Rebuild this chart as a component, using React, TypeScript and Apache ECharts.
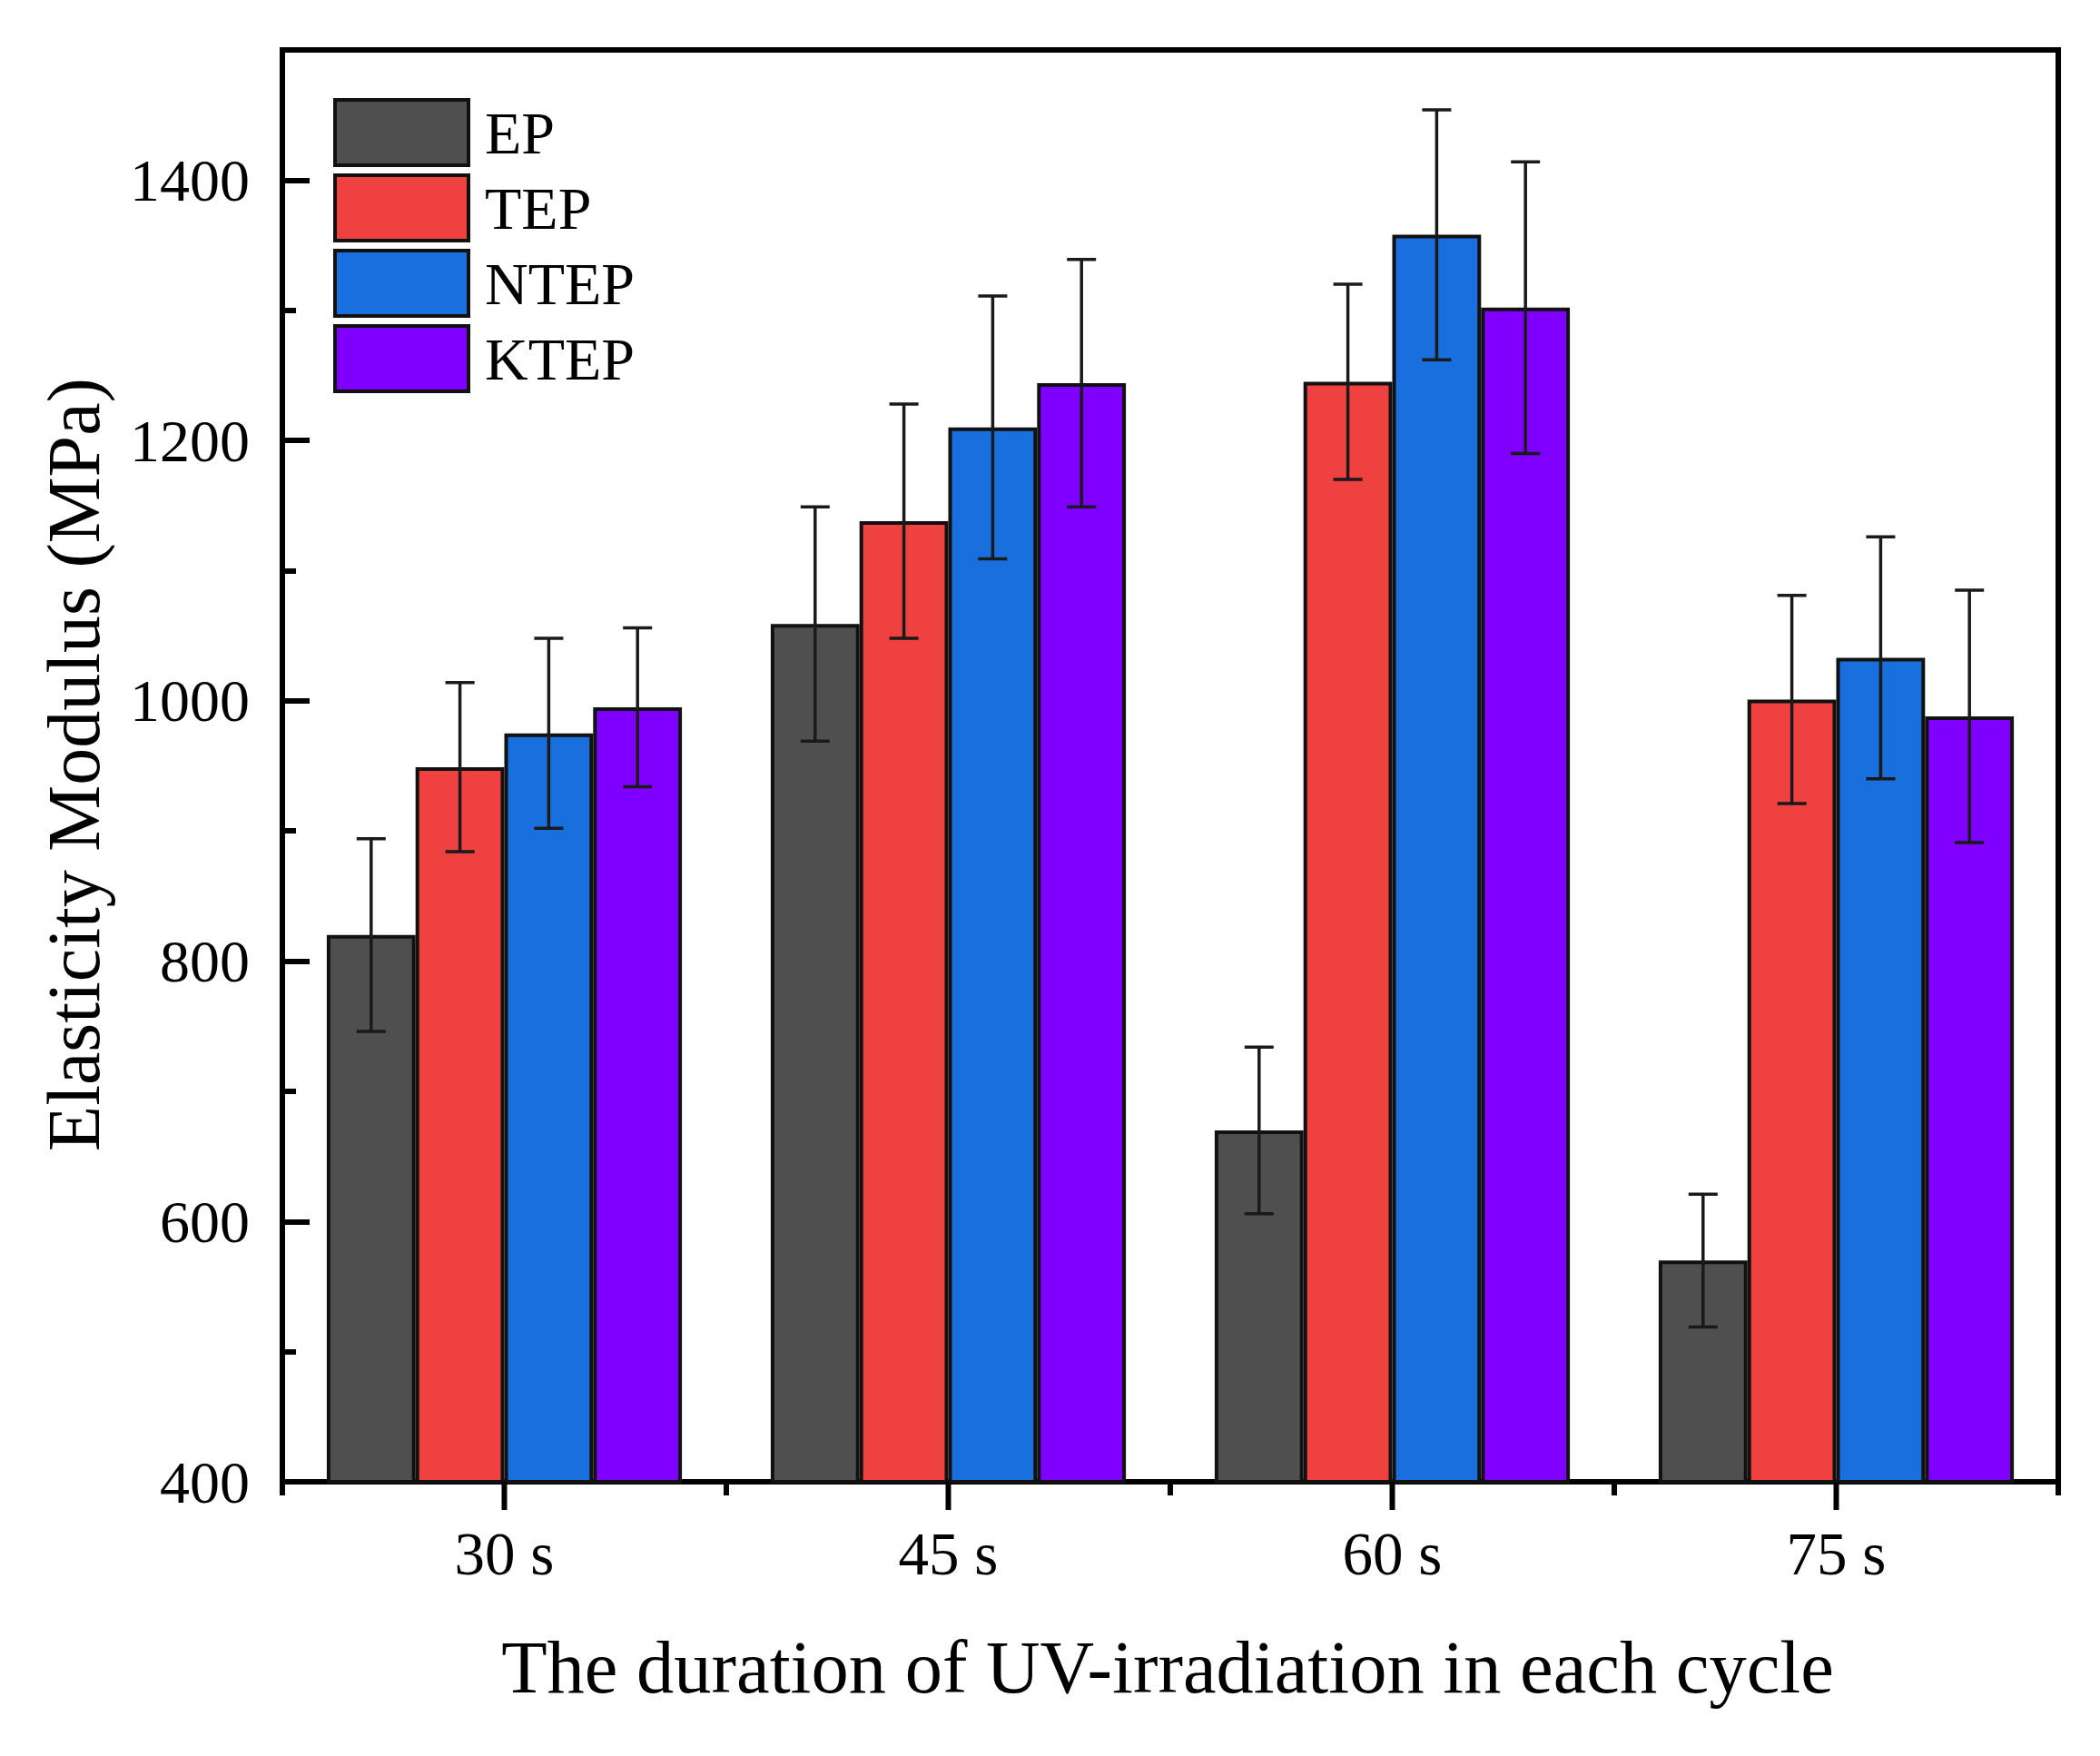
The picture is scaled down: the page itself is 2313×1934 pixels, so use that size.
import React, { useEffect, useRef } from "react";
import * as echarts from "echarts";

const categories = ["30 s", "45 s", "60 s", "75 s"];
const seriesNames = ["EP", "TEP", "NTEP", "KTEP"];
const seriesColors = ["#4f4f4f", "#f04141", "#1a6fdf", "#8000ff"];

const epValues = [820, 1059, 670, 570];
const epErrors = [74, 90, 64, 51];
const tepValues = [949, 1138, 1245, 1001];
const tepErrors = [65, 90, 75, 80];
const ntepValues = [975, 1210, 1358, 1033];
const ntepErrors = [73, 101, 96, 93];
const ktepValues = [995, 1244, 1302, 988];
const ktepErrors = [61, 95, 112, 97];

const yMin = 400;
const yMax = 1500;
const yMajor = 200;
const yMinor = 100;

const xTitle = "The duration of UV-irradiation in each cycle";
const yTitle = "Elasticity Modulus (MPa)";

const FONT = "'Liberation Serif', 'Times New Roman', serif";

export default function App() {
  const ref = useRef<HTMLDivElement>(null);

  useEffect(() => {
    if (!ref.current) return;
    const chart = echarts.init(ref.current, undefined, { renderer: "svg" });
    const allValues = [epValues, tepValues, ntepValues, ktepValues];
    const allErrors = [epErrors, tepErrors, ntepErrors, ktepErrors];
    const nSeries = seriesNames.length;
    const catGap = 0.2;

    const barSeries = seriesNames.map((name, k) => ({
      name,
      type: "bar",
      xAxisIndex: 0,
      yAxisIndex: 0,
      data: allValues[k],
      barGap: "0%",
      barCategoryGap: "20%",
      itemStyle: { color: seriesColors[k], borderColor: "#111", borderWidth: 4 },
      z: 2,
    }));

    const errSeries = seriesNames.map((name, k) => ({
      name: name + "-err",
      type: "custom",
      xAxisIndex: 0,
      yAxisIndex: 0,
      z: 10,
      encode: { x: 0, y: [1, 2] },
      data: allValues[k].map((v, i) => [i, v - allErrors[k][i], v + allErrors[k][i]]),
      renderItem: (params: any, api: any) => {
        const cat = api.value(0);
        const lo = api.value(1);
        const hi = api.value(2);
        const pLo = api.coord([cat, lo]);
        const pHi = api.coord([cat, hi]);
        const band = api.size([1, 0])[0];
        const barW = (band * (1 - catGap)) / nSeries;
        const cx = pLo[0] + (k - (nSeries - 1) / 2) * barW;
        const half = 16;
        const st = { stroke: "#1a1a1a", lineWidth: 3.5 };
        return {
          type: "group",
          children: [
            { type: "line", shape: { x1: cx, y1: pHi[1], x2: cx, y2: pLo[1] }, style: st },
            { type: "line", shape: { x1: cx - half, y1: pHi[1], x2: cx + half, y2: pHi[1] }, style: st },
            { type: "line", shape: { x1: cx - half, y1: pLo[1], x2: cx + half, y2: pLo[1] }, style: st },
          ],
        };
      },
    }));

    // major ticks at category centres (below the x axis)
    const centreTicks = {
      name: "centre-ticks",
      type: "custom",
      xAxisIndex: 0,
      yAxisIndex: 0,
      z: 12,
      clip: false,
      silent: true,
      encode: { x: 0, y: 1 },
      data: categories.map((_, i) => [i, yMin]),
      renderItem: (params: any, api: any) => {
        const p = api.coord([api.value(0), api.value(1)]);
        return {
          type: "line",
          shape: { x1: p[0], y1: p[1], x2: p[0], y2: p[1] + 31 },
          style: { stroke: "#000", lineWidth: 6 },
        };
      },
    };

    chart.setOption({
      animation: false,
      backgroundColor: "#fff",
      grid: {
        left: 311,
        right: 46,
        top: 55,
        bottom: 302,
        show: true,
        borderColor: "#000",
        borderWidth: 6,
        backgroundColor: "transparent",
      },
      legend: {
        data: seriesNames,
        orient: "vertical",
        left: 367,
        top: 108,
        padding: 0,
        itemWidth: 147,
        itemHeight: 72,
        itemGap: 7,
        icon: "rect",
        itemStyle: { borderColor: "#111", borderWidth: 4 },
        textStyle: {
          fontFamily: FONT,
          fontSize: 66,
          lineHeight: 66,
          color: "#000",
          padding: [0, 0, 0, 13],
        },
        selectedMode: false,
      },
      xAxis: [
        {
          type: "category",
          data: categories,
          position: "bottom",
          axisLine: { show: true, lineStyle: { color: "#000", width: 6 } },
          axisTick: { show: true, length: 15, lineStyle: { color: "#000", width: 6 } },
          axisLabel: { show: true, fontFamily: FONT, fontSize: 67, color: "#000", margin: 45 },
          splitLine: { show: false },
        },
      ],
      yAxis: [
        {
          type: "value",
          position: "left",
          min: yMin,
          max: yMax,
          interval: yMajor,
          axisLine: { show: true, lineStyle: { color: "#000", width: 6 } },
          axisTick: { show: true, inside: true, length: 30, lineStyle: { color: "#000", width: 6 } },
          axisLabel: {
            fontFamily: FONT,
            fontSize: 66,
            color: "#000",
            margin: 36,
            formatter: (v: number) => (v === yMax ? "" : String(v)),
          },
          splitLine: { show: false },
        },
        {
          type: "value",
          position: "left",
          min: yMin,
          max: yMax,
          interval: yMinor,
          axisLine: { show: false },
          axisTick: { show: true, inside: true, length: 15, lineStyle: { color: "#000", width: 6 } },
          axisLabel: { show: false },
          splitLine: { show: false },
        },
      ],
      graphic: [
        {
          type: "text",
          x: 1286,
          y: 1836,
          style: {
            text: xTitle,
            fontFamily: FONT,
            fontSize: 82.5,
            fill: "#000",
            textAlign: "center",
            textVerticalAlign: "middle",
          },
        },
        {
          type: "text",
          x: 81,
          y: 842,
          rotation: Math.PI / 2,
          style: {
            text: yTitle,
            fontFamily: FONT,
            fontSize: 82,
            fill: "#000",
            textAlign: "center",
            textVerticalAlign: "middle",
          },
        },
      ],
      series: [...barSeries, ...errSeries, centreTicks],
    });
    return () => chart.dispose();
  }, []);

  return (
    <div
      ref={ref}
      style={{ position: "fixed", left: 0, top: 0, width: 2313, height: 1934, background: "#fff" }}
    />
  );
}
